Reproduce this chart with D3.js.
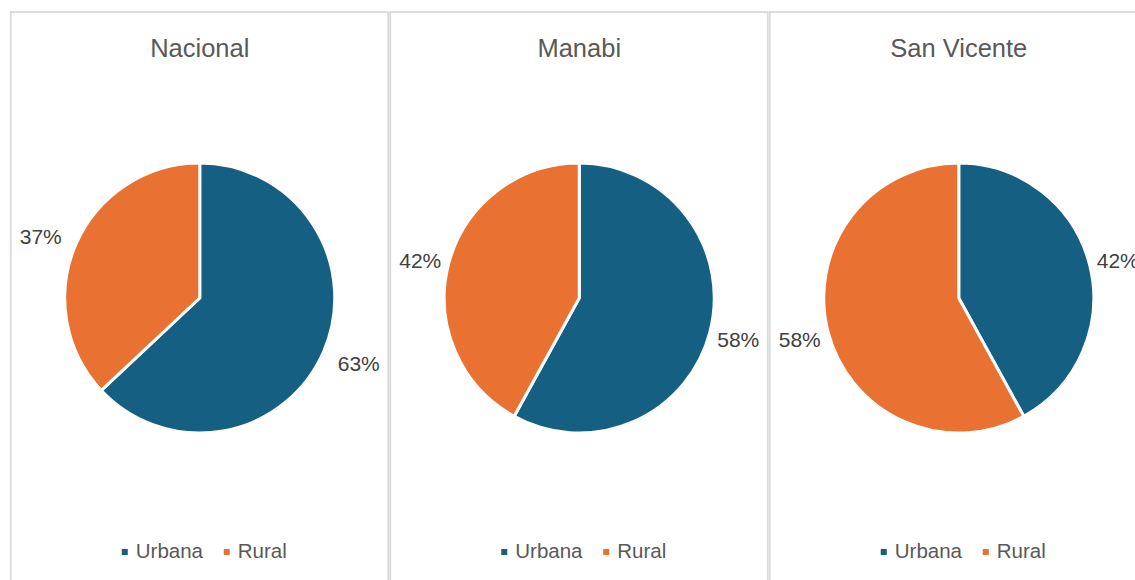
<!DOCTYPE html>
<html>
<head>
<meta charset="utf-8">
<script src="https://cdn.jsdelivr.net/npm/d3@7"></script>
<style>
  body { margin: 0; background: #fff; }
  svg { display: block; font-family: "Liberation Sans", Arial, sans-serif; }
</style>
</head>
<body>
<script>
// data
const panels = ['Nacional', 'Manabi', 'San Vicente'];
const categories = ['Urbana', 'Rural'];
const urbanaValues = [63, 58, 42];
const ruralValues = [37, 42, 58];
const colors = ['#156082', '#E97132'];

const width = 1135;
const height = 580;

const svg = d3.select('body')
  .append('svg')
  .attr('width', width)
  .attr('height', height);

// one band per panel
const xPanel = d3.scaleBand()
  .domain(panels)
  .range([10, 10 + 3 * 379.5]);

const color = d3.scaleOrdinal()
  .domain(categories)
  .range(colors);

const radius = 135;
const cy = 298;

const pie = d3.pie()
  .sort(null)
  .value(d => d.value);

const arc = d3.arc().innerRadius(0).outerRadius(radius);
// labels sit just outside the pie (excel "best fit" look)
const labelArc = d3.arc().innerRadius(radius * 1.18).outerRadius(radius * 1.18);

panels.forEach(function(name, i) {
  const x0 = xPanel(name);
  const bw = xPanel.bandwidth();
  const cx = x0 + bw / 2;
  const rows = [
    {cat: categories[0], value: urbanaValues[i]},
    {cat: categories[1], value: ruralValues[i]}
  ];

  const g = svg.append('g');

  // panel frame
  g.append('rect')
    .attr('x', x0 + 0.75)
    .attr('y', 12)
    .attr('width', bw - 2)
    .attr('height', 620)
    .attr('fill', 'none')
    .attr('stroke', '#d9d9d9')
    .attr('stroke-width', 1.75);

  // title
  g.append('text')
    .attr('x', cx)
    .attr('y', 57)
    .attr('text-anchor', 'middle')
    .attr('font-size', 25.5)
    .attr('fill', '#595959')
    .text(name);

  const pg = g.append('g')
    .attr('transform', `translate(${cx},${cy})`);

  pg.selectAll('path')
    .data(pie(rows))
    .join('path')
    .attr('d', arc)
    .attr('fill', d => color(d.data.cat))
    .attr('stroke', '#fff')
    .attr('stroke-width', 3)
    .attr('stroke-linejoin', 'round');

  pg.selectAll('text')
    .data(pie(rows))
    .join('text')
    .attr('x', d => labelArc.centroid(d)[0] > 0 ? radius + 3 : -(radius + 3))
    .attr('y', d => labelArc.centroid(d)[1] + 2)
    .attr('dy', '0.35em')
    .attr('text-anchor', d => labelArc.centroid(d)[0] > 0 ? 'start' : 'end')
    .attr('font-size', 21)
    .attr('fill', '#404040')
    .text(d => d.data.value + '%');

  // legend
  const lg = g.append('g')
    .attr('transform', `translate(${cx - 78},558)`);
  const offsets = [0, 102];
  categories.forEach(function(c, j) {
    lg.append('rect')
      .attr('x', offsets[j])
      .attr('y', -9)
      .attr('width', 6)
      .attr('height', 6)
      .attr('fill', color(c));
    lg.append('text')
      .attr('x', offsets[j] + 14)
      .attr('y', 0)
      .attr('font-size', 20.5)
      .attr('fill', '#595959')
      .text(c);
  });
});
</script>
</body>
</html>
